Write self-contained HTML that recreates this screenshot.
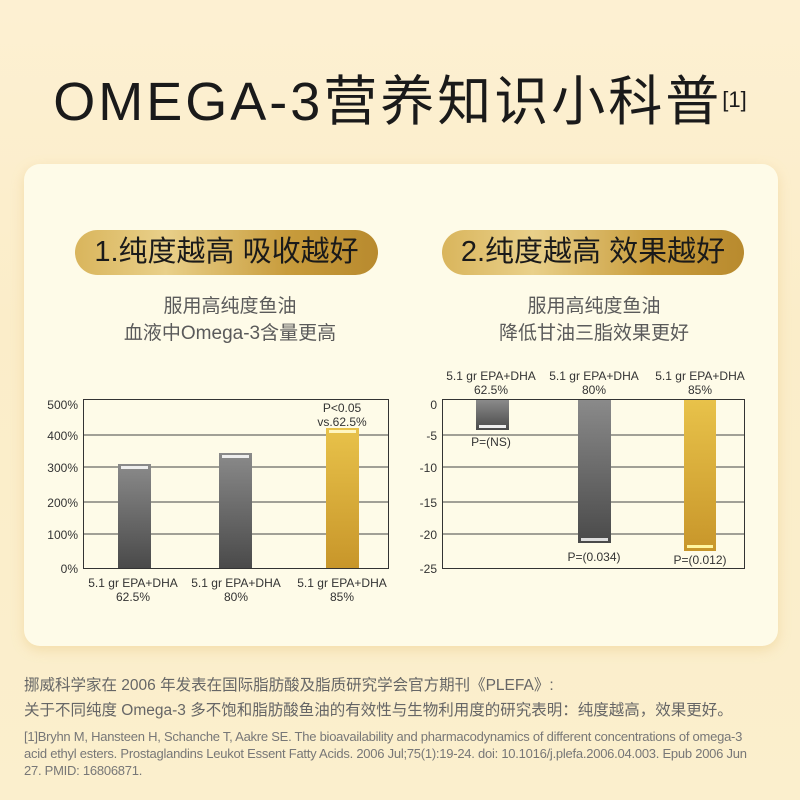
<!DOCTYPE html>
<html><head><meta charset="utf-8"><style>
*{margin:0;padding:0;box-sizing:border-box}
body{width:800px;height:800px;position:relative;overflow:hidden;background:linear-gradient(180deg,#fdf0d2 0%,#fbedc9 40%,#fbefcd 100%);font-family:"Liberation Sans","Noto Sans CJK SC",sans-serif}
.abs{position:absolute}
.title{left:0;width:800px;top:70px;text-align:center;font-size:54px;color:#1a1a1a;letter-spacing:3px;line-height:64px}
.title sup{font-size:22px;vertical-align:top;position:relative;top:-2px;letter-spacing:0}
.card{left:24px;top:164px;width:754px;height:482px;border-radius:16px;background:#fefbe8;box-shadow:0 4px 12px rgba(230,190,110,.35)}
.pill{height:45px;border-radius:23px;background:linear-gradient(90deg,#d9b55c,#e9d08a 30%,#c89c3c 70%,#b88a2e);color:#1a1a1a;font-size:29px;text-align:center;line-height:45px}
.sub{font-size:19px;color:#5a5a5a;text-align:center;line-height:27px;width:340px}
.ft{font-size:15.5px;color:#666;left:24px}
.ref{font-size:13px;color:#777;left:24px;width:780px;line-height:17px;letter-spacing:-.25px;white-space:nowrap}
</style></head><body>
<div class="abs title">OMEGA-3营养知识小科普<sup>[1]</sup></div>
<div class="abs card"></div>
<div class="abs pill" style="left:75px;top:230px;width:303px">1.纯度越高 吸收越好</div>
<div class="abs pill" style="left:442px;top:230px;width:302px">2.纯度越高 效果越好</div>
<div class="abs sub" style="left:60px;top:293px">服用高纯度鱼油<br>血液中Omega-3含量更高</div>
<div class="abs sub" style="left:424px;top:293px">服用高纯度鱼油<br>降低甘油三脂效果更好</div>
<svg class="abs" style="left:0;top:0" width="800" height="800">
<defs>
<linearGradient id="g" x1="0" y1="0" x2="0" y2="1"><stop offset="0" stop-color="#8a8a8a"/><stop offset="1" stop-color="#4a4a4a"/></linearGradient>
<linearGradient id="y" x1="0" y1="0" x2="0" y2="1"><stop offset="0" stop-color="#e8c24a"/><stop offset="1" stop-color="#c8962a"/></linearGradient>
</defs>
<g stroke="#444" stroke-width="1">
<line x1="83" y1="435" x2="388" y2="435"/><line x1="83" y1="467" x2="388" y2="467"/><line x1="83" y1="502" x2="388" y2="502"/><line x1="83" y1="534" x2="388" y2="534"/>
<line x1="442" y1="435" x2="744" y2="435"/><line x1="442" y1="467" x2="744" y2="467"/><line x1="442" y1="502" x2="744" y2="502"/><line x1="442" y1="534" x2="744" y2="534"/>
</g>
<rect x="83.5" y="399.5" width="305" height="169" fill="none" stroke="#333"/>
<rect x="442.5" y="399.5" width="302" height="169" fill="none" stroke="#333"/>
<rect x="118" y="464" width="33" height="104" fill="url(#g)"/><rect x="121" y="466" width="27" height="3" fill="#eee"/>
<rect x="219" y="453" width="33" height="115" fill="url(#g)"/><rect x="222" y="455" width="27" height="3" fill="#eee"/>
<rect x="326" y="428" width="33" height="140" fill="url(#y)"/><rect x="329" y="430" width="27" height="3" fill="#fff6c0"/>
<rect x="476" y="400" width="33" height="30" fill="url(#g)"/><rect x="479" y="425" width="27" height="3" fill="#eee"/>
<rect x="578" y="400" width="33" height="143" fill="url(#g)"/><rect x="581" y="538" width="27" height="3" fill="#ddd"/>
<rect x="684" y="400" width="32" height="151" fill="url(#y)"/><rect x="687" y="545" width="26" height="3" fill="#fff6a0"/>
<g font-family="Liberation Sans,sans-serif" font-size="12" fill="#333" text-anchor="end">
<text x="78" y="409">500%</text><text x="78" y="440">400%</text><text x="78" y="472">300%</text><text x="78" y="507">200%</text><text x="78" y="539">100%</text><text x="78" y="573">0%</text>
<text x="437" y="409">0</text><text x="437" y="440">-5</text><text x="437" y="472">-10</text><text x="437" y="507">-15</text><text x="437" y="539">-20</text><text x="437" y="573">-25</text>
</g>
<g font-family="Liberation Sans,sans-serif" font-size="12" fill="#333" text-anchor="middle">
<text x="342" y="412">P&lt;0.05</text><text x="342" y="426">vs.62.5%</text>
<text x="133" y="587">5.1 gr EPA+DHA</text><text x="133" y="601">62.5%</text>
<text x="236" y="587">5.1 gr EPA+DHA</text><text x="236" y="601">80%</text>
<text x="342" y="587">5.1 gr EPA+DHA</text><text x="342" y="601">85%</text>
<text x="491" y="380">5.1 gr EPA+DHA</text><text x="491" y="394">62.5%</text>
<text x="594" y="380">5.1 gr EPA+DHA</text><text x="594" y="394">80%</text>
<text x="700" y="380">5.1 gr EPA+DHA</text><text x="700" y="394">85%</text>
<text x="491" y="446">P=(NS)</text><text x="594" y="561">P=(0.034)</text><text x="700" y="564">P=(0.012)</text>
</g>
</svg>
<div class="abs ft" style="top:673px">挪威科学家在 2006 年发表在国际脂肪酸及脂质研究学会官方期刊《PLEFA》:</div>
<div class="abs ft" style="top:698px">关于不同纯度 Omega-3 多不饱和脂肪酸鱼油的有效性与生物利用度的研究表明：纯度越高，效果更好。</div>
<div class="abs ref" style="top:728px">[1]Bryhn M, Hansteen H, Schanche T, Aakre SE. The bioavailability and pharmacodynamics of different concentrations of omega-3<br>acid ethyl esters. Prostaglandins Leukot Essent Fatty Acids. 2006 Jul;75(1):19-24. doi: 10.1016/j.plefa.2006.04.003. Epub 2006 Jun<br>27. PMID: 16806871.</div>
</body></html>
